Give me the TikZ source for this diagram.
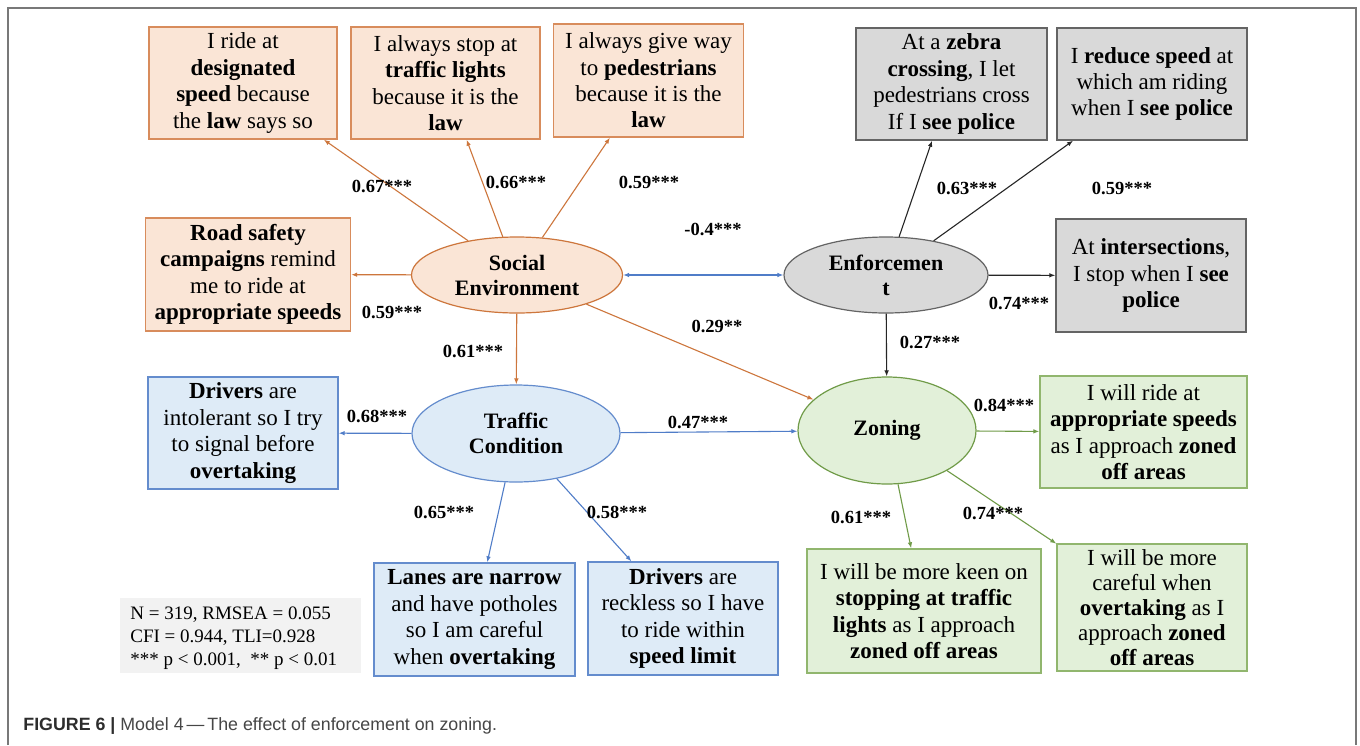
\documentclass[tikz,border=0pt]{standalone}
\usepackage{fontspec}
\setmainfont{Liberation Serif}
\newfontfamily\capfont{Liberation Sans}
\usetikzlibrary{shapes.geometric,arrows.meta}

% palette
\definecolor{orLine}{RGB}{205,118,60}
\definecolor{orEdge}{RGB}{216,140,92}
\definecolor{orFill}{RGB}{250,229,214}
\definecolor{grLine}{RGB}{38,38,38}
\definecolor{grEdge}{RGB}{100,100,100}
\definecolor{grFill}{RGB}{217,217,217}
\definecolor{blLine}{RGB}{80,125,200}
\definecolor{blEdge}{RGB}{100,140,205}
\definecolor{blFill}{RGB}{222,235,247}
\definecolor{gnLine}{RGB}{112,155,72}
\definecolor{gnEdge}{RGB}{145,182,110}
\definecolor{gnFill}{RGB}{226,240,217}
\definecolor{frameGray}{RGB}{120,120,120}
\definecolor{statFill}{RGB}{242,242,242}
\definecolor{capDark}{RGB}{45,45,45}
\definecolor{capText}{RGB}{70,70,70}

\begin{document}
% one unit = half a point; sizes below are given in those units
\begin{tikzpicture}[x=0.5pt,y=-0.5pt,
  sz/.style 2 args={minimum width=#1*0.5pt, minimum height=#2*0.5pt},
  item/.style={draw, line width=0.7pt, inner sep=0pt, align=center,
    font=\fontsize{11.5}{13.2}\selectfont},
  obox/.style={item, draw=orEdge, fill=orFill},
  gbox/.style={item, draw=grEdge, fill=grFill},
  bbox/.style={item, draw=blEdge, fill=blFill},
  zbox/.style={item, draw=gnEdge, fill=gnFill},
  factor/.style={ellipse, draw, line width=0.6pt, inner sep=0pt, align=center,
    font=\bfseries\fontsize{11}{12.5}\selectfont},
  tip/.style={-{Latex[length=3pt,width=2.3pt]}},
  link/.style={tip, line width=0.55pt},
  lbl/.style={font=\bfseries\fontsize{9.25}{10}\selectfont, inner sep=0pt}
]
\useasboundingbox (0,0) rectangle (1360,745);
\fill[white] (0,0) rectangle (1360,745);

% outer frame (open at the bottom)
\draw[frameGray, line width=1pt] (8,745) -- (8,7.5) -- (1356,7.5) -- (1356,745);

% ---------- latent factors ----------
\node[factor, draw=orLine, fill=orFill, sz={211}{76}] (se) at (517,275) {Social\\Environment};
\node[factor, draw=grEdge, fill=grFill, sz={204}{76}] (enf) at (886,275) {Enforcemen\\t};
\node[factor, draw=blEdge, fill=blFill, sz={208}{97}] (tc) at (516,433.5) {Traffic\\Condition};
\node[factor, draw=gnLine, fill=gnFill, sz={178}{107}] (zon) at (887,430.5) {Zoning};

% ---------- social environment items ----------
\node[obox, sz={188}{112}] (s1) at (243,83)
  {I ride at\\\textbf{designated}\\\textbf{speed} because\\the \textbf{law} says so};
\node[obox, sz={189}{112}] (s2) at (445.5,83)
  {I always stop at\\\textbf{traffic lights}\\because it is the\\\textbf{law}};
\node[obox, sz={190}{113}] (s3) at (648.5,80.5)
  {I always give way\\to \textbf{pedestrians}\\because it is the\\\textbf{law}};
\node[obox, sz={205}{113}] (s4) at (248,274.5)
  {\textbf{Road safety}\\\textbf{campaigns} remind\\me to ride at\\\textbf{appropriate speeds}};

% ---------- enforcement items ----------
\node[gbox, sz={191}{112}] (e1) at (951.5,84)
  {At a \textbf{zebra}\\\textbf{crossing}, I let\\pedestrians cross\\If I \textbf{see police}};
\node[gbox, sz={190}{112}] (e2) at (1152,84)
  {I \textbf{reduce speed} at\\which am riding\\when I \textbf{see police}};
\node[gbox, sz={190}{113}] (e3) at (1151,275.5)
  {At \textbf{intersections},\\I stop when I \textbf{see}\\\textbf{police}};

% ---------- traffic condition items ----------
\node[bbox, sz={190}{112}] (t1) at (243,433)
  {\textbf{Drivers} are\\intolerant so I try\\to signal before\\\textbf{overtaking}};
\node[bbox, sz={201}{113}] (t2) at (474.5,619.5)
  {\textbf{Lanes are narrow}\\and have potholes\\so I am careful\\when \textbf{overtaking}};
\node[bbox, sz={190}{113}] (t3) at (683,618.5)
  {\textbf{Drivers} are\\reckless so I have\\to ride within\\\textbf{speed limit}};

% ---------- zoning items ----------
\node[zbox, sz={207}{112}] (z1) at (1143.5,432)
  {I will ride at\\\textbf{appropriate speeds}\\as I approach \textbf{zoned}\\\textbf{off areas}};
\node[zbox, sz={234}{124}] (z2) at (924,611)
  {I will be more keen on\\\textbf{stopping at traffic}\\\textbf{lights} as I approach\\\textbf{zoned off areas}};
\node[zbox, sz={190}{127}, font=\fontsize{11.5}{12.5}\selectfont] (z3) at (1152,607.5)
  {I will be more\\careful when\\\textbf{overtaking} as I\\approach \textbf{zoned}\\\textbf{off areas}};

% ---------- fit statistics ----------
\node[fill=statFill, sz={241}{75}, inner sep=0pt] (stat) at (240,635.5) {};
\node[anchor=west, inner sep=0pt, align=left, font=\fontsize{9.5}{11.5}\selectfont] (stattxt) at (130,638)
  {N = 319, RMSEA = 0.055\\CFI = 0.944, TLI=0.928\\*** p < 0.001,~~** p < 0.01};

% ---------- loadings ----------
\draw[link, orLine] (se) -- (s1);
\draw[link, orLine] (se) -- (s2);
\draw[link, orLine] (se) -- (s3);
\draw[link, orLine] (se) -- (s4);
\draw[link, orLine] (se) -- (tc);
\draw[link, orLine] (se) -- (zon);
\draw[{Latex[length=3pt,width=2.3pt]}-{Latex[length=3pt,width=2.3pt]}, line width=0.55pt, blLine] (se) -- (enf);

\draw[link, grLine] (enf) -- (e1);
\draw[link, grLine] (enf) -- (e2);
\draw[link, grLine] (enf) -- (e3);
\draw[link, grLine] (enf) -- (zon);

\draw[link, blLine] (tc) -- (t1);
\draw[link, blLine] (tc) -- (t2);
\draw[link, blLine] (tc) -- (t3);
\draw[link, blLine] (tc) -- (zon);

\draw[link, gnLine] (zon) -- (z1);
\draw[link, gnLine] (zon) -- (z2);
\draw[link, gnLine] (zon) -- (z3);

% ---------- coefficients ----------
\node[lbl] (l1) at (382,186) {0.67***};
\node[lbl] (l2) at (516,182) {0.66***};
\node[lbl] (l3) at (649,182) {0.59***};
\node[lbl] (l4) at (392,312) {0.59***};
\node[lbl] (l5) at (713,229) {-0.4***};
\node[lbl] (l6) at (967,188) {0.63***};
\node[lbl] (l7) at (1122,188) {0.59***};
\node[lbl] (l8) at (1019,303) {0.74***};
\node[lbl] (l9) at (717,326) {0.29**};
\node[lbl] (l10) at (930,342) {0.27***};
\node[lbl] (l11) at (473,351) {0.61***};
\node[lbl] (l12) at (377,416) {0.68***};
\node[lbl] (l13) at (698,422) {0.47***};
\node[lbl] (l14) at (444,512) {0.65***};
\node[lbl] (l15) at (617,512) {0.58***};
\node[lbl] (l16) at (1004,405) {0.84***};
\node[lbl] (l17) at (861,517) {0.61***};
\node[lbl] (l18) at (993,513) {0.74***};

% ---------- caption ----------
\node[anchor=base west, inner sep=0pt, font=\capfont\fontsize{8.9}{10}\selectfont] (cap) at (23,730.5)
  {\textcolor{capDark}{\textbf{FIGURE 6 |}} \textcolor{capText}{Model 4\,—\,The effect of enforcement on zoning.}};
\end{tikzpicture}
\end{document}
